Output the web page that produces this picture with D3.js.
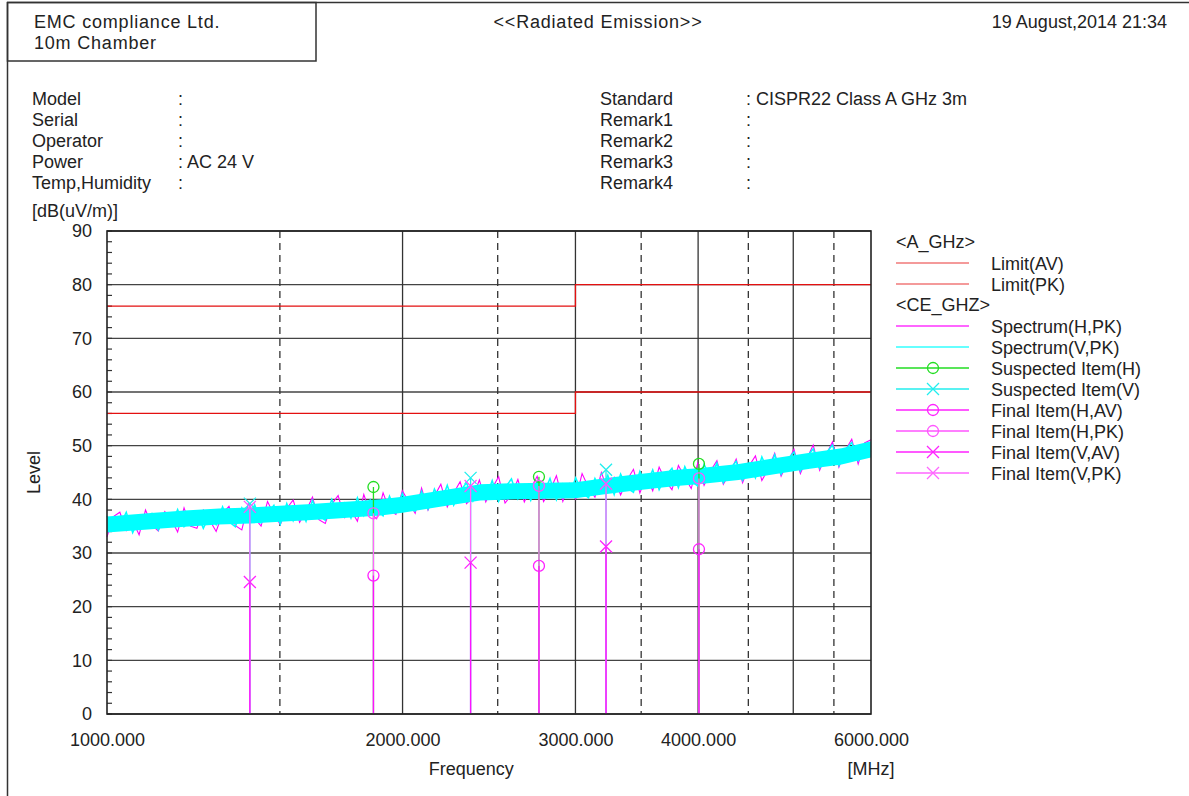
<!DOCTYPE html>
<html>
<head>
<meta charset="utf-8">
<script src="https://cdn.jsdelivr.net/npm/d3@7"></script>
<style>
  body { margin: 0; background: #fff; }
  text { font-family: "Liberation Sans", Arial, sans-serif; fill: #222; }
</style>
</head>
<body>
<svg id="chart-svg"></svg>
<script>
// limits (CISPR22 class A, GHz 3m)
const limitFreq = [1000, 3000, 3000, 6000];
const limitAV = [56, 56, 60, 60];
const limitPK = [76, 76, 80, 80];

// spectrum traces (sweep points are spaced evenly on the log axis)
const spectrumH = [
  33.0,36.8,37.6,34.2,36.0,33.4,38.0,35.2,34.1,37.7,
  36.3,33.9,38.4,35.0,34.6,38.0,36.1,34.0,37.4,38.7,
  35.1,34.3,39.2,36.5,35.0,39.6,37.2,35.3,38.3,39.9,
  35.7,37.8,40.4,36.2,35.5,39.1,40.7,36.6,38.0,35.9,
  40.9,37.4,36.4,41.2,38.0,37.2,41.6,39.5,37.4,42.1,
  38.0,40.6,42.8,38.6,41.2,43.3,39.2,40.4,43.6,39.5,
  42.1,44.2,39.3,40.8,43.7,39.5,42.0,44.3,39.6,41.6,
  44.4,39.6,42.9,40.1,44.8,42.2,40.4,45.0,41.7,44.1,
  40.8,43.6,45.6,41.2,44.3,41.6,46.0,43.4,41.8,46.3,
  44.1,42.0,46.7,42.6,45.3,47.2,42.8,44.9,47.5,43.1,
  46.2,48.1,43.5,45.7,48.6,44.3,46.9,49.3,44.8,47.6,
  50.1,45.4,48.2,50.7,46.0,49.1,51.2,46.6,50.5,51.1
];
const spectrumV = [
  36.9,34.2,35.1,37.6,33.8,36.4,35.0,37.3,34.3,36.8,
  35.2,38.1,34.9,36.0,37.7,34.6,37.1,35.3,38.6,35.8,
  34.9,38.4,36.3,39.0,35.6,37.4,38.9,35.4,39.2,36.0,
  38.6,35.9,39.8,37.0,36.1,40.0,37.2,39.3,36.5,40.3,
  37.0,39.9,38.1,36.9,40.6,37.6,41.1,38.2,37.8,41.5,
  38.2,41.9,39.4,42.6,38.9,41.5,43.1,39.7,42.4,40.2,
  43.5,39.6,42.2,43.8,40.1,42.6,39.8,43.4,41.0,43.9,
  39.9,42.8,40.6,44.0,41.2,40.3,43.9,41.5,44.5,40.9,
  44.7,42.1,41.3,45.2,42.6,45.5,41.8,44.3,45.8,42.2,
  46.1,43.4,42.5,46.5,44.0,46.8,43.1,45.6,47.1,43.6,
  46.7,44.0,47.9,45.2,48.3,44.7,47.4,48.8,45.3,47.9,
  49.4,45.8,48.6,50.1,46.3,49.2,50.6,47.2,49.8,48.9
];

// solid core of the V trace
const coreFreq = [1000,1100,1200,1300,1400,1500,1600,1700,1800,1900,2000,2200,2400,2600,2800,3000,3200,3400,3600,3800,4000,4400,4800,5200,5600,6000];
const coreLowV  = [33.8,34.4,34.9,35.3,35.5,35.8,36.1,36.4,36.7,37.0,37.5,38.7,39.8,40.0,40.1,40.2,40.9,41.5,42.0,42.5,42.8,43.6,44.7,45.7,46.5,47.8];
const coreHighV = [36.8,37.4,37.9,38.3,38.5,38.8,39.1,39.4,39.7,40.0,40.5,41.7,42.8,43.0,43.1,43.2,43.9,44.5,45.0,45.5,45.8,46.6,47.7,48.7,49.5,50.8];

// items
const itemFreqH = [1868, 2754, 4008];
const suspectedH = [42.3, 44.2, 46.6];
const finalHAV = [25.8, 27.6, 30.7];
const finalHPK = [37.4, 42.5, 43.9];
const itemFreqV = [1398, 2346, 3223];
const suspectedV = [39.2, 44.0, 45.5];
const finalVAV = [24.6, 28.2, 31.2];
const finalVPK = [38.6, 42.5, 42.9];

const xTicks = [1000, 2000, 3000, 4000, 6000];
const xSolid = [2000, 3000, 4000, 5000];
const xDashed = [1500, 2500, 3500, 4500, 5500];
const yTicks = [0, 10, 20, 30, 40, 50, 60, 70, 80, 90];

const infoLeft = [["Model", ""], ["Serial", ""], ["Operator", ""], ["Power", "AC 24 V"], ["Temp,Humidity", ""]];
const infoRight = [["Standard", "CISPR22 Class A GHz 3m"], ["Remark1", ""], ["Remark2", ""], ["Remark3", ""], ["Remark4", ""]];

const legendItems = [
  { label: "<A_GHz>", kind: "title" },
  { label: "Limit(AV)", kind: "line", color: "#f07878" },
  { label: "Limit(PK)", kind: "line", color: "#f07878" },
  { label: "<CE_GHZ>", kind: "title" },
  { label: "Spectrum(H,PK)", kind: "line", color: "#ff33ff" },
  { label: "Spectrum(V,PK)", kind: "line", color: "#33ffff" },
  { label: "Suspected Item(H)", kind: "circle", color: "#22dd22" },
  { label: "Suspected Item(V)", kind: "cross", color: "#22eeee" },
  { label: "Final Item(H,AV)", kind: "circle", color: "#ff22ff" },
  { label: "Final Item(H,PK)", kind: "circle", color: "#ff55ff" },
  { label: "Final Item(V,AV)", kind: "cross", color: "#ff22ff" },
  { label: "Final Item(V,PK)", kind: "cross", color: "#ff66ff" }
];

const W = 1189, H = 796;
const margin = { top: 231, right: 318, bottom: 82, left: 107 };
const width = W - margin.left - margin.right,
      height = H - margin.top - margin.bottom;

const root = d3.select("#chart-svg").attr("width", W).attr("height", H);

// page frame + header
root.append("line").attr("x1", 7.5).attr("x2", 7.5).attr("y1", 2).attr("y2", H).attr("stroke", "#333").attr("stroke-width", 1.5);
root.append("line").attr("x1", 7).attr("x2", W).attr("y1", 2.5).attr("y2", 2.5).attr("stroke", "#333").attr("stroke-width", 1.5);
root.append("rect").attr("x", 7.5).attr("y", 2.5).attr("width", 308.5).attr("height", 58.5)
    .attr("fill", "none").attr("stroke", "#333").attr("stroke-width", 1.5);
root.append("text").attr("x", 34).attr("y", 28).attr("font-size", 18).attr("letter-spacing", 0.8).text("EMC compliance Ltd.");
root.append("text").attr("x", 34).attr("y", 49).attr("font-size", 18).attr("letter-spacing", 0.8).text("10m Chamber");
root.append("text").attr("x", 598).attr("y", 28).attr("font-size", 18).attr("letter-spacing", 0.8).attr("text-anchor", "middle").text("<<Radiated Emission>>");
root.append("text").attr("x", 1167).attr("y", 28).attr("font-size", 18).attr("text-anchor", "end").text("19 August,2014 21:34");

infoLeft.forEach((r, i) => {
  const yy = 105 + i * 21;
  root.append("text").attr("x", 32).attr("y", yy).attr("font-size", 18).text(r[0]);
  root.append("text").attr("x", 178).attr("y", yy).attr("font-size", 18).text(": " + r[1]);
});
infoRight.forEach((r, i) => {
  const yy = 105 + i * 21;
  root.append("text").attr("x", 600).attr("y", yy).attr("font-size", 18).text(r[0]);
  root.append("text").attr("x", 746).attr("y", yy).attr("font-size", 18).text(": " + r[1]);
});

root.append("text").attr("x", 32).attr("y", 217).attr("font-size", 18).text("[dB(uV/m)]");

const svg = root.append("g").attr("transform", "translate(" + margin.left + "," + margin.top + ")");

const x = d3.scaleLog().domain([1000, 6000]).range([0, width]);
const y = d3.scaleLinear().domain([0, 90]).range([height, 0]);

// grid
svg.selectAll(".hgrid").data(yTicks).enter().append("line")
   .attr("x1", 0).attr("x2", width)
   .attr("y1", d => y(d)).attr("y2", d => y(d))
   .attr("stroke", "#444").attr("stroke-width", 1.3);
svg.selectAll(".vsolid").data(xSolid).enter().append("line")
   .attr("x1", d => x(d)).attr("x2", d => x(d))
   .attr("y1", 0).attr("y2", height)
   .attr("stroke", "#333").attr("stroke-width", 1.3);
svg.selectAll(".vdash").data(xDashed).enter().append("line")
   .attr("x1", d => x(d)).attr("x2", d => x(d))
   .attr("y1", 0).attr("y2", height)
   .attr("stroke", "#333").attr("stroke-width", 1.3)
   .attr("stroke-dasharray", "7,5");

// minor y ticks every 2 dB
svg.selectAll(".ymin").data(d3.range(0, 91, 2)).enter().append("line")
   .attr("x1", 0).attr("x2", 5)
   .attr("y1", d => y(d)).attr("y2", d => y(d))
   .attr("stroke", "#333").attr("stroke-width", 1.2);

// limits
const limLine = d3.line().x(d => x(d[0])).y(d => y(d[1]));
svg.append("path").datum(limitFreq.map((f, i) => [f, limitAV[i]]))
   .attr("fill", "none").attr("stroke", "#e41010").attr("stroke-width", 1.3).attr("d", limLine);
svg.append("path").datum(limitFreq.map((f, i) => [f, limitPK[i]]))
   .attr("fill", "none").attr("stroke", "#e41010").attr("stroke-width", 1.3).attr("d", limLine);

// spectra
const sweepX = i => x.invert(i * width / (spectrumV.length - 1));
svg.append("path").datum(spectrumH)
   .attr("fill", "none").attr("stroke", "#ff00ff").attr("stroke-width", 1.1)
   .attr("d", d3.line().x((d, i) => x(sweepX(i))).y(d => y(d)));
svg.append("path").datum(coreFreq)
   .attr("fill", "#00ffff").attr("stroke", "none")
   .attr("d", d3.area().x(d => x(d)).y0((d, i) => y(coreLowV[i])).y1((d, i) => y(coreHighV[i])));
svg.append("path").datum(spectrumV)
   .attr("fill", "none").attr("stroke", "#00ffff").attr("stroke-width", 1.5)
   .attr("d", d3.line().x((d, i) => x(sweepX(i))).y(d => y(d)));

// stems + markers
function stems(freqs, vals, color, w) {
  svg.selectAll(null).data(freqs).enter().append("line")
     .attr("x1", d => x(d)).attr("x2", d => x(d))
     .attr("y1", (d, i) => y(vals[i])).attr("y2", y(0))
     .attr("stroke", color).attr("stroke-width", w);
}
function circles(freqs, vals, color) {
  svg.selectAll(null).data(freqs).enter().append("circle")
     .attr("cx", d => x(d)).attr("cy", (d, i) => y(vals[i])).attr("r", 5.5)
     .attr("fill", "none").attr("stroke", color).attr("stroke-width", 1.3);
}
function crosses(freqs, vals, color) {
  svg.selectAll(null).data(freqs).enter().append("path")
     .attr("transform", (d, i) => "translate(" + x(d) + "," + y(vals[i]) + ")")
     .attr("d", "M-6,-6L6,6M-6,6L6,-6")
     .attr("fill", "none").attr("stroke", color).attr("stroke-width", 1.3);
}
stems(itemFreqH, suspectedH, "#22dd22", 1.3);
stems(itemFreqV, suspectedV, "#22eeee", 1.3);
stems(itemFreqH, finalHPK, "#ff66ff", 1.3);
stems(itemFreqV, finalVPK, "#ff66ff", 1.3);
stems(itemFreqH, finalHAV, "#ff11ff", 1.3);
stems(itemFreqV, finalVAV, "#ff11ff", 1.3);
circles(itemFreqH, suspectedH, "#22dd22");
crosses(itemFreqV, suspectedV, "#22eeee");
circles(itemFreqH, finalHPK, "#ff55ff");
crosses(itemFreqV, finalVPK, "#ff55ff");
circles(itemFreqH, finalHAV, "#ff22ff");
crosses(itemFreqV, finalVAV, "#ff22ff");

// border
svg.append("rect").attr("x", 0).attr("y", 0).attr("width", width).attr("height", height)
   .attr("fill", "none").attr("stroke", "#222").attr("stroke-width", 1.6);

// axes labels
const yAxis = svg.append("g").call(d3.axisLeft(y).tickValues(yTicks).tickSize(0).tickPadding(15));
yAxis.select(".domain").remove();
yAxis.selectAll("text").attr("font-size", 18).attr("font-family", "Liberation Sans, Arial, sans-serif").attr("fill", "#222");

const xAxis = svg.append("g").attr("transform", "translate(0," + height + ")")
   .call(d3.axisBottom(x).tickValues(xTicks).tickFormat(d3.format(".3f")).tickSize(0).tickPadding(19));
xAxis.select(".domain").remove();
xAxis.selectAll("text").attr("font-size", 18).attr("font-family", "Liberation Sans, Arial, sans-serif").attr("fill", "#222");

svg.append("text").attr("x", x(2350)).attr("y", height + 61).attr("font-size", 18)
   .attr("text-anchor", "middle").text("Frequency");
svg.append("text").attr("x", width).attr("y", height + 61).attr("font-size", 18)
   .attr("text-anchor", "middle").text("[MHz]");
svg.append("text").attr("transform", "translate(-67," + (height / 2) + ") rotate(-90)")
   .attr("font-size", 18).attr("text-anchor", "middle").text("Level");

// legend
const lg = root.append("g").attr("transform", "translate(896,0)");
legendItems.forEach((d, i) => {
  const yy = 242 + i * 21;
  if (d.kind === "title") {
    lg.append("text").attr("x", 0).attr("y", yy + 6).attr("font-size", 18).text(d.label);
    return;
  }
  lg.append("line").attr("x1", 0).attr("x2", 73).attr("y1", yy).attr("y2", yy)
    .attr("stroke", d.color).attr("stroke-width", 1.3);
  if (d.kind === "circle") {
    lg.append("circle").attr("cx", 37).attr("cy", yy).attr("r", 5.5)
      .attr("fill", "none").attr("stroke", d.color).attr("stroke-width", 1.3);
  } else if (d.kind === "cross") {
    lg.append("path").attr("transform", "translate(37," + yy + ")").attr("d", "M-6,-6L6,6M-6,6L6,-6")
      .attr("fill", "none").attr("stroke", d.color).attr("stroke-width", 1.3);
  }
  lg.append("text").attr("x", 95).attr("y", yy + 7).attr("font-size", 18).text(d.label);
});
</script>
</body>
</html>
